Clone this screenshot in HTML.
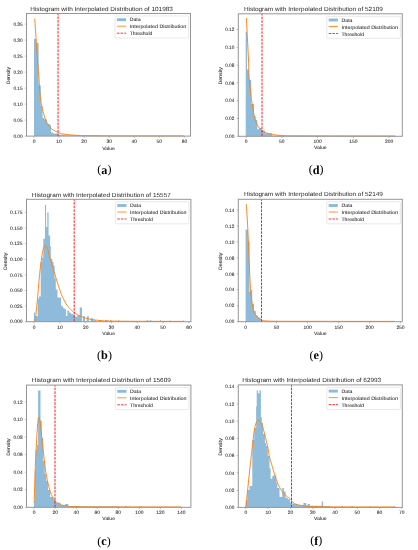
<!DOCTYPE html>
<html><head><meta charset="utf-8"><title>Histograms</title>
<style>
html,body{margin:0;padding:0;background:#fff;}
body{width:418px;height:550px;overflow:hidden;}
svg{display:block;filter:blur(0.3px);}
svg text{font-family:"Liberation Sans",sans-serif;fill:#262626;text-rendering:geometricPrecision;stroke:#262626;}
</style></head><body>
<svg width="418" height="550" viewBox="0 0 418 550">
<rect width="418" height="550" fill="#fff"/>
<path d="M34 136.1H36.2V39H34ZM36.2 136.1H38.6V43H36.2ZM38.6 136.1H40.8V85.6H38.6ZM40.8 136.1H42.6V106H40.8ZM42.6 136.1H44.4V118H42.6ZM44.4 136.1H47V119.5H44.4ZM47 136.1H49.8V124H47ZM49.8 136.1H51V125.2H49.8ZM51 136.1H53.4V132.4H51ZM53.4 136.1H58V133.6H53.4ZM58 136.1H65V134.8H58ZM65 136.1H80V135.2H65ZM80 136.1H100V135.5H80Z" fill="#8ebbda"/>
<polyline points="34.8,19 34.92,20.88 35.09,23.48 35.28,26.56 35.49,29.87 35.7,33.17 35.9,36.2 36.08,39.03 36.27,41.86 36.45,44.68 36.63,47.45 36.82,50.17 37,52.8 37.19,55.4 37.38,58.01 37.57,60.55 37.76,62.97 37.94,65.21 38.1,67.2 38.23,68.72 38.33,69.76 38.42,70.61 38.52,71.58 38.64,72.94 38.8,75 38.99,77.96 39.19,81.62 39.42,85.69 39.67,89.84 39.97,93.78 40.3,97.2 40.69,100.1 41.12,102.74 41.59,105.16 42.08,107.41 42.59,109.54 43.1,111.6 43.61,113.56 44.12,115.39 44.65,117.09 45.2,118.68 45.78,120.18 46.4,121.6 47.03,122.92 47.66,124.13 48.32,125.25 49.04,126.29 49.86,127.27 50.8,128.2 51.92,129.09 53.19,129.93 54.56,130.71 55.96,131.41 57.32,132.05 58.6,132.6 59.71,133.05 60.69,133.39 61.64,133.66 62.66,133.88 63.85,134.08 65.3,134.3 66.96,134.53 68.74,134.74 70.69,134.93 72.86,135.11 75.28,135.26 78,135.4 80.42,135.51 82.38,135.6 84.59,135.66 87.79,135.71 92.68,135.76 100,135.8 111.29,135.84 126.28,135.86 142.97,135.88 159.36,135.89 173.44,135.89 183.2,135.9" fill="none" stroke="#ff7f0e" stroke-width="0.95" stroke-linejoin="round" stroke-linecap="round"/>
<line x1="58.05" y1="136.1" x2="58.05" y2="13.5" stroke="#ff0000" stroke-width="0.9" stroke-dasharray="2.55 1.11" stroke-dashoffset="0"/>
<rect x="26.5" y="13.5" width="164" height="122.6" fill="none" stroke="#969696" stroke-width="1.0"/>
<line x1="34" y1="136.1" x2="34" y2="137.8" stroke="#969696" stroke-width="0.6"/>
<text x="34" y="142.7" font-size="4.83" text-anchor="middle" textLength="2.75" lengthAdjust="spacingAndGlyphs" stroke-width="0.05">0</text>
<line x1="59.07" y1="136.1" x2="59.07" y2="137.8" stroke="#969696" stroke-width="0.6"/>
<text x="59.07" y="142.7" font-size="4.83" text-anchor="middle" textLength="5.5" lengthAdjust="spacingAndGlyphs" stroke-width="0.05">10</text>
<line x1="84.13" y1="136.1" x2="84.13" y2="137.8" stroke="#969696" stroke-width="0.6"/>
<text x="84.13" y="142.7" font-size="4.83" text-anchor="middle" textLength="5.5" lengthAdjust="spacingAndGlyphs" stroke-width="0.05">20</text>
<line x1="109.2" y1="136.1" x2="109.2" y2="137.8" stroke="#969696" stroke-width="0.6"/>
<text x="109.2" y="142.7" font-size="4.83" text-anchor="middle" textLength="5.5" lengthAdjust="spacingAndGlyphs" stroke-width="0.05">30</text>
<line x1="134.27" y1="136.1" x2="134.27" y2="137.8" stroke="#969696" stroke-width="0.6"/>
<text x="134.27" y="142.7" font-size="4.83" text-anchor="middle" textLength="5.5" lengthAdjust="spacingAndGlyphs" stroke-width="0.05">40</text>
<line x1="159.33" y1="136.1" x2="159.33" y2="137.8" stroke="#969696" stroke-width="0.6"/>
<text x="159.33" y="142.7" font-size="4.83" text-anchor="middle" textLength="5.5" lengthAdjust="spacingAndGlyphs" stroke-width="0.05">50</text>
<line x1="184.4" y1="136.1" x2="184.4" y2="137.8" stroke="#969696" stroke-width="0.6"/>
<text x="184.4" y="142.7" font-size="4.83" text-anchor="middle" textLength="5.5" lengthAdjust="spacingAndGlyphs" stroke-width="0.05">60</text>
<line x1="24.8" y1="136.1" x2="26.5" y2="136.1" stroke="#969696" stroke-width="0.6"/>
<text x="22.6" y="137.78" font-size="4.83" text-anchor="end" textLength="9.22" lengthAdjust="spacingAndGlyphs" stroke-width="0.05">0.00</text>
<line x1="24.8" y1="120.1" x2="26.5" y2="120.1" stroke="#969696" stroke-width="0.6"/>
<text x="22.6" y="121.78" font-size="4.83" text-anchor="end" textLength="9.22" lengthAdjust="spacingAndGlyphs" stroke-width="0.05">0.05</text>
<line x1="24.8" y1="104.1" x2="26.5" y2="104.1" stroke="#969696" stroke-width="0.6"/>
<text x="22.6" y="105.78" font-size="4.83" text-anchor="end" textLength="9.22" lengthAdjust="spacingAndGlyphs" stroke-width="0.05">0.10</text>
<line x1="24.8" y1="88.1" x2="26.5" y2="88.1" stroke="#969696" stroke-width="0.6"/>
<text x="22.6" y="89.78" font-size="4.83" text-anchor="end" textLength="9.22" lengthAdjust="spacingAndGlyphs" stroke-width="0.05">0.15</text>
<line x1="24.8" y1="72.1" x2="26.5" y2="72.1" stroke="#969696" stroke-width="0.6"/>
<text x="22.6" y="73.78" font-size="4.83" text-anchor="end" textLength="9.22" lengthAdjust="spacingAndGlyphs" stroke-width="0.05">0.20</text>
<line x1="24.8" y1="56.1" x2="26.5" y2="56.1" stroke="#969696" stroke-width="0.6"/>
<text x="22.6" y="57.78" font-size="4.83" text-anchor="end" textLength="9.22" lengthAdjust="spacingAndGlyphs" stroke-width="0.05">0.25</text>
<line x1="24.8" y1="40.1" x2="26.5" y2="40.1" stroke="#969696" stroke-width="0.6"/>
<text x="22.6" y="41.78" font-size="4.83" text-anchor="end" textLength="9.22" lengthAdjust="spacingAndGlyphs" stroke-width="0.05">0.30</text>
<line x1="24.8" y1="24.1" x2="26.5" y2="24.1" stroke="#969696" stroke-width="0.6"/>
<text x="22.6" y="25.78" font-size="4.83" text-anchor="end" textLength="9.22" lengthAdjust="spacingAndGlyphs" stroke-width="0.05">0.35</text>
<text x="108.5" y="149.7" font-size="4.83" text-anchor="middle" textLength="12.63" lengthAdjust="spacingAndGlyphs" stroke-width="0.05">Value</text>
<g transform="translate(10.3 75.6) rotate(-90)"><text x="0" y="0" font-size="4.83" text-anchor="middle" textLength="17.49" lengthAdjust="spacingAndGlyphs" stroke-width="0.05">Density</text></g>
<text x="30.3" y="10.6" font-size="6" text-anchor="start" textLength="142.56" lengthAdjust="spacingAndGlyphs" stroke-width="0">Histogram with Interpolated Distribution of 101983</text>
<rect x="115" y="16" width="73.6" height="22" rx="0.9" fill="#fff" fill-opacity="0.8" stroke="#d0d0d0" stroke-width="0.5"/>
<rect x="116.9" y="18.25" width="9.2" height="2.9" fill="#8ebbda"/>
<line x1="116.9" y1="26.2" x2="126.1" y2="26.2" stroke="#ff7f0e" stroke-width="0.85"/>
<line x1="116.9" y1="33.2" x2="126.1" y2="33.2" stroke="#ff0000" stroke-width="0.8" stroke-dasharray="2.55 1.11"/>
<text x="129.7" y="21.38" font-size="4.83" text-anchor="start" textLength="10.98" lengthAdjust="spacingAndGlyphs" stroke-width="0.05">Data</text>
<text x="129.7" y="28.38" font-size="4.83" text-anchor="start" textLength="56.48" lengthAdjust="spacingAndGlyphs" stroke-width="0.05">Interpolated Distribution</text>
<text x="129.7" y="35.28" font-size="4.83" text-anchor="start" textLength="22.67" lengthAdjust="spacingAndGlyphs" stroke-width="0.05">Threshold</text>
<text x="104.4" y="173.2" style="font-family:&quot;Liberation Serif&quot;,serif;fill:#000;stroke:none" font-size="12" text-anchor="middle">(<tspan style="font-weight:bold" font-size="12.2" dy="0.8">a</tspan><tspan dy="-0.8">)</tspan></text>
<path d="M33.9 321.7H35V312.6H33.9ZM35 321.7H36V316H35ZM36 321.7H37.7V316.2H36ZM37.7 321.7H38.9V298.7H37.7ZM38.9 321.7H40.7V296.4H38.9ZM40.7 321.7H42.1V262H40.7ZM42.1 321.7H43.3V257.7H42.1ZM43.3 321.7H45V238.8H43.3ZM45 321.7H46.1V205.1H45ZM46.1 321.7H47.3V227H46.1ZM47.3 321.7H48.6V212.4H47.3ZM48.6 321.7H50.1V235.5H48.6ZM50.1 321.7H50.8V246H50.1ZM50.8 321.7H52.4V259.1H50.8ZM52.4 321.7H53.5V262H52.4ZM53.5 321.7H54.6V265.6H53.5ZM54.6 321.7H55.8V278.4H54.6ZM55.8 321.7H57.5V289.4H55.8ZM57.5 321.7H61V297.6H57.5ZM61 321.7H62.8V305.7H61ZM62.8 321.7H64.5V308H62.8ZM64.5 321.7H66V309.2H64.5ZM66 321.7H67.4V316H66ZM67.4 321.7H69.2V310.4H67.4ZM69.2 321.7H70.9V312.7H69.2ZM70.9 321.7H73.3V313.9H70.9ZM73.3 321.7H75V315H73.3ZM75 321.7H77.3V316.8H75ZM77.3 321.7H79.7V315H77.3ZM79.7 321.7H82V307.5H79.7ZM82.9 321.7H85V316.3H82.9ZM86.8 321.7H88.9V316.3H86.8ZM90.7 321.7H93.2V318.2H90.7ZM93.2 321.7H96V320.2H93.2ZM99 321.7H101V320.4H99ZM105.3 321.7H107.6V320.1H105.3ZM110 321.7H111.5V320.1H110ZM118 321.7H119.5V320.6H118ZM146.7 321.7H148.3V320.2H146.7ZM150 321.7H151.3V320.3H150ZM160 321.7H161V320.3H160ZM169.6 321.7H170.8V320.5H169.6ZM183 321.7H184.3V320.6H183Z" fill="#8ebbda"/>
<polyline points="34.2,321.4 34.31,321.21 34.47,320.98 34.65,320.69 34.84,320.32 35.03,319.87 35.2,319.3 35.33,318.73 35.45,318.19 35.56,317.56 35.67,316.72 35.82,315.54 36,313.9 36.23,311.72 36.5,309.09 36.79,306.12 37.09,302.93 37.4,299.65 37.7,296.4 37.99,293.07 38.28,289.56 38.58,285.95 38.87,282.34 39.18,278.83 39.5,275.5 39.83,272.3 40.19,269.13 40.54,266.06 40.9,263.14 41.26,260.43 41.6,258 41.93,255.84 42.25,253.9 42.56,252.18 42.87,250.66 43.19,249.33 43.5,248.2 43.82,247.28 44.15,246.6 44.48,246.11 44.8,245.79 45.11,245.6 45.4,245.5 45.67,245.53 45.93,245.73 46.17,246.05 46.41,246.47 46.65,246.97 46.9,247.5 47.16,248.09 47.43,248.76 47.7,249.5 47.97,250.3 48.24,251.13 48.5,252 48.73,252.85 48.93,253.68 49.13,254.56 49.36,255.53 49.64,256.66 50,258 50.47,259.61 51.02,261.45 51.62,263.44 52.26,265.52 52.89,267.6 53.5,269.6 54.08,271.56 54.67,273.54 55.26,275.52 55.84,277.49 56.42,279.42 57,281.3 57.57,283.15 58.14,284.98 58.7,286.78 59.26,288.52 59.83,290.2 60.4,291.8 60.98,293.32 61.56,294.76 62.14,296.14 62.73,297.46 63.32,298.71 63.9,299.9 64.48,301.02 65.07,302.07 65.65,303.05 66.23,303.98 66.82,304.86 67.4,305.7 67.98,306.5 68.57,307.24 69.15,307.93 69.73,308.59 70.32,309.21 70.9,309.8 71.48,310.36 72.07,310.88 72.65,311.36 73.23,311.82 73.82,312.27 74.4,312.7 74.98,313.12 75.54,313.53 76.11,313.92 76.69,314.29 77.28,314.65 77.9,315 78.53,315.33 79.15,315.63 79.79,315.92 80.47,316.2 81.2,316.49 82,316.8 82.82,317.13 83.64,317.46 84.51,317.81 85.49,318.15 86.63,318.48 88,318.8 89.56,319.11 91.26,319.43 93.12,319.73 95.19,320.02 97.47,320.28 100,320.5 102.37,320.68 104.46,320.83 106.78,320.94 109.81,321.04 114.06,321.12 120,321.2 128.8,321.26 140.3,321.31 153,321.34 165.43,321.37 176.09,321.38 183.5,321.4" fill="none" stroke="#ff7f0e" stroke-width="0.95" stroke-linejoin="round" stroke-linecap="round"/>
<line x1="74.2" y1="321.7" x2="74.2" y2="199.3" stroke="#ff0000" stroke-width="0.9" stroke-dasharray="2.55 1.11" stroke-dashoffset="0"/>
<rect x="26.5" y="199.3" width="164.4" height="122.4" fill="none" stroke="#969696" stroke-width="1.0"/>
<line x1="34.1" y1="321.7" x2="34.1" y2="323.4" stroke="#969696" stroke-width="0.6"/>
<text x="34.1" y="328.5" font-size="4.83" text-anchor="middle" textLength="2.75" lengthAdjust="spacingAndGlyphs" stroke-width="0.05">0</text>
<line x1="59.9" y1="321.7" x2="59.9" y2="323.4" stroke="#969696" stroke-width="0.6"/>
<text x="59.9" y="328.5" font-size="4.83" text-anchor="middle" textLength="5.5" lengthAdjust="spacingAndGlyphs" stroke-width="0.05">10</text>
<line x1="85.7" y1="321.7" x2="85.7" y2="323.4" stroke="#969696" stroke-width="0.6"/>
<text x="85.7" y="328.5" font-size="4.83" text-anchor="middle" textLength="5.5" lengthAdjust="spacingAndGlyphs" stroke-width="0.05">20</text>
<line x1="111.5" y1="321.7" x2="111.5" y2="323.4" stroke="#969696" stroke-width="0.6"/>
<text x="111.5" y="328.5" font-size="4.83" text-anchor="middle" textLength="5.5" lengthAdjust="spacingAndGlyphs" stroke-width="0.05">30</text>
<line x1="137.3" y1="321.7" x2="137.3" y2="323.4" stroke="#969696" stroke-width="0.6"/>
<text x="137.3" y="328.5" font-size="4.83" text-anchor="middle" textLength="5.5" lengthAdjust="spacingAndGlyphs" stroke-width="0.05">40</text>
<line x1="163.1" y1="321.7" x2="163.1" y2="323.4" stroke="#969696" stroke-width="0.6"/>
<text x="163.1" y="328.5" font-size="4.83" text-anchor="middle" textLength="5.5" lengthAdjust="spacingAndGlyphs" stroke-width="0.05">50</text>
<line x1="188.9" y1="321.7" x2="188.9" y2="323.4" stroke="#969696" stroke-width="0.6"/>
<text x="188.9" y="328.5" font-size="4.83" text-anchor="middle" textLength="5.5" lengthAdjust="spacingAndGlyphs" stroke-width="0.05">60</text>
<line x1="24.8" y1="321.7" x2="26.5" y2="321.7" stroke="#969696" stroke-width="0.6"/>
<text x="22.6" y="323.38" font-size="4.83" text-anchor="end" textLength="12.51" lengthAdjust="spacingAndGlyphs" stroke-width="0.05">0.000</text>
<line x1="24.8" y1="306.08" x2="26.5" y2="306.08" stroke="#969696" stroke-width="0.6"/>
<text x="22.6" y="307.76" font-size="4.83" text-anchor="end" textLength="12.51" lengthAdjust="spacingAndGlyphs" stroke-width="0.05">0.025</text>
<line x1="24.8" y1="290.47" x2="26.5" y2="290.47" stroke="#969696" stroke-width="0.6"/>
<text x="22.6" y="292.15" font-size="4.83" text-anchor="end" textLength="12.51" lengthAdjust="spacingAndGlyphs" stroke-width="0.05">0.050</text>
<line x1="24.8" y1="274.86" x2="26.5" y2="274.86" stroke="#969696" stroke-width="0.6"/>
<text x="22.6" y="276.54" font-size="4.83" text-anchor="end" textLength="12.51" lengthAdjust="spacingAndGlyphs" stroke-width="0.05">0.075</text>
<line x1="24.8" y1="259.24" x2="26.5" y2="259.24" stroke="#969696" stroke-width="0.6"/>
<text x="22.6" y="260.92" font-size="4.83" text-anchor="end" textLength="12.51" lengthAdjust="spacingAndGlyphs" stroke-width="0.05">0.100</text>
<line x1="24.8" y1="243.62" x2="26.5" y2="243.62" stroke="#969696" stroke-width="0.6"/>
<text x="22.6" y="245.31" font-size="4.83" text-anchor="end" textLength="12.51" lengthAdjust="spacingAndGlyphs" stroke-width="0.05">0.125</text>
<line x1="24.8" y1="228.01" x2="26.5" y2="228.01" stroke="#969696" stroke-width="0.6"/>
<text x="22.6" y="229.69" font-size="4.83" text-anchor="end" textLength="12.51" lengthAdjust="spacingAndGlyphs" stroke-width="0.05">0.150</text>
<line x1="24.8" y1="212.39" x2="26.5" y2="212.39" stroke="#969696" stroke-width="0.6"/>
<text x="22.6" y="214.07" font-size="4.83" text-anchor="end" textLength="12.51" lengthAdjust="spacingAndGlyphs" stroke-width="0.05">0.175</text>
<text x="108.7" y="334.5" font-size="4.83" text-anchor="middle" textLength="12.63" lengthAdjust="spacingAndGlyphs" stroke-width="0.05">Value</text>
<g transform="translate(7 261.3) rotate(-90)"><text x="0" y="0" font-size="4.83" text-anchor="middle" textLength="17.49" lengthAdjust="spacingAndGlyphs" stroke-width="0.05">Density</text></g>
<text x="31.8" y="196.8" font-size="6" text-anchor="start" textLength="139.02" lengthAdjust="spacingAndGlyphs" stroke-width="0">Histogram with Interpolated Distribution of 15557</text>
<rect x="115.4" y="201.8" width="73.6" height="22" rx="0.9" fill="#fff" fill-opacity="0.8" stroke="#d0d0d0" stroke-width="0.5"/>
<rect x="117.3" y="204.05" width="9.2" height="2.9" fill="#8ebbda"/>
<line x1="117.3" y1="212" x2="126.5" y2="212" stroke="#ff7f0e" stroke-width="0.85"/>
<line x1="117.3" y1="219" x2="126.5" y2="219" stroke="#ff0000" stroke-width="0.8" stroke-dasharray="2.55 1.11"/>
<text x="130.1" y="207.18" font-size="4.83" text-anchor="start" textLength="10.98" lengthAdjust="spacingAndGlyphs" stroke-width="0.05">Data</text>
<text x="130.1" y="214.18" font-size="4.83" text-anchor="start" textLength="56.48" lengthAdjust="spacingAndGlyphs" stroke-width="0.05">Interpolated Distribution</text>
<text x="130.1" y="221.08" font-size="4.83" text-anchor="start" textLength="22.67" lengthAdjust="spacingAndGlyphs" stroke-width="0.05">Threshold</text>
<text x="104.5" y="358.5" style="font-family:&quot;Liberation Serif&quot;,serif;fill:#000;stroke:none" font-size="12" text-anchor="middle">(<tspan style="font-weight:bold" font-size="12.2" dy="0.8">b</tspan><tspan dy="-0.8">)</tspan></text>
<path d="M34 507.3H34.9V501H34ZM34.9 507.3H35.7V470H34.9ZM35.7 507.3H36.8V450H35.7ZM36.8 507.3H38.1V445H36.8ZM38.1 507.3H40.5V390.5H38.1ZM40.5 507.3H41.8V420.7H40.5ZM41.8 507.3H43.2V438H41.8ZM43.2 507.3H44.8V461H43.2ZM44.8 507.3H46.2V474H44.8ZM46.2 507.3H48V481H46.2ZM48 507.3H50.2V490H48ZM50.2 507.3H53.5V497H50.2ZM53.5 507.3H55.7V500H53.5ZM55.7 507.3H60.6V502.8H55.7ZM60.6 507.3H65V505H60.6ZM65 507.3H68.3V503.9H65ZM68.3 507.3H80V506H68.3ZM80 507.3H120V506.5H80ZM125 507.3H127V506.3H125ZM140 507.3H142V506.4H140Z" fill="#8ebbda"/>
<polyline points="34.2,502 34.26,499.9 34.34,496.98 34.44,493.53 34.55,489.85 34.65,486.24 34.75,483 34.84,480.11 34.92,477.31 35.01,474.59 35.1,471.91 35.19,469.22 35.3,466.5 35.41,463.84 35.53,461.28 35.65,458.72 35.78,456.06 35.93,453.18 36.1,450 36.3,446.25 36.54,441.98 36.79,437.5 37.04,433.13 37.28,429.19 37.5,426 37.69,423.55 37.85,421.59 38,420.06 38.15,418.91 38.31,418.07 38.5,417.5 38.71,417.23 38.94,417.31 39.18,417.71 39.42,418.39 39.66,419.33 39.9,420.5 40.13,421.97 40.36,423.78 40.59,425.84 40.82,428.08 41.06,430.39 41.3,432.7 41.56,435.08 41.83,437.63 42.1,440.25 42.37,442.87 42.64,445.42 42.9,447.8 43.14,450 43.38,452.09 43.61,454.09 43.83,456.06 44.06,458.01 44.3,460 44.54,462.02 44.77,464.05 45,466.07 45.24,468.08 45.51,470.06 45.8,472 46.12,473.9 46.46,475.78 46.82,477.63 47.2,479.45 47.6,481.24 48,483 48.41,484.75 48.84,486.5 49.28,488.23 49.74,489.89 50.21,491.45 50.7,492.9 51.22,494.23 51.76,495.47 52.31,496.61 52.88,497.67 53.44,498.63 54,499.5 54.54,500.25 55.06,500.89 55.58,501.43 56.12,501.9 56.69,502.35 57.3,502.8 57.94,503.24 58.6,503.65 59.29,504.02 60.03,504.37 60.83,504.7 61.7,505 62.66,505.28 63.7,505.53 64.79,505.76 65.94,505.97 67.11,506.15 68.3,506.3 69.33,506.42 70.18,506.51 71.06,506.57 72.19,506.61 73.76,506.66 76,506.7 78.4,506.75 80.68,506.79 83.42,506.82 87.17,506.85 92.51,506.87 100,506.9 111.14,506.92 125.78,506.94 142,506.96 157.89,506.98 171.53,506.99 181,507" fill="none" stroke="#ff7f0e" stroke-width="0.95" stroke-linejoin="round" stroke-linecap="round"/>
<line x1="55" y1="507.3" x2="55" y2="385.1" stroke="#ff0000" stroke-width="0.9" stroke-dasharray="2.55 1.11" stroke-dashoffset="0"/>
<rect x="26.5" y="385.1" width="164.4" height="122.2" fill="none" stroke="#969696" stroke-width="1.0"/>
<line x1="34.1" y1="507.3" x2="34.1" y2="509" stroke="#969696" stroke-width="0.6"/>
<text x="34.1" y="514" font-size="4.83" text-anchor="middle" textLength="2.75" lengthAdjust="spacingAndGlyphs" stroke-width="0.05">0</text>
<line x1="55.16" y1="507.3" x2="55.16" y2="509" stroke="#969696" stroke-width="0.6"/>
<text x="55.16" y="514" font-size="4.83" text-anchor="middle" textLength="5.5" lengthAdjust="spacingAndGlyphs" stroke-width="0.05">20</text>
<line x1="76.22" y1="507.3" x2="76.22" y2="509" stroke="#969696" stroke-width="0.6"/>
<text x="76.22" y="514" font-size="4.83" text-anchor="middle" textLength="5.5" lengthAdjust="spacingAndGlyphs" stroke-width="0.05">40</text>
<line x1="97.27" y1="507.3" x2="97.27" y2="509" stroke="#969696" stroke-width="0.6"/>
<text x="97.27" y="514" font-size="4.83" text-anchor="middle" textLength="5.5" lengthAdjust="spacingAndGlyphs" stroke-width="0.05">60</text>
<line x1="118.33" y1="507.3" x2="118.33" y2="509" stroke="#969696" stroke-width="0.6"/>
<text x="118.33" y="514" font-size="4.83" text-anchor="middle" textLength="5.5" lengthAdjust="spacingAndGlyphs" stroke-width="0.05">80</text>
<line x1="139.39" y1="507.3" x2="139.39" y2="509" stroke="#969696" stroke-width="0.6"/>
<text x="139.39" y="514" font-size="4.83" text-anchor="middle" textLength="8.25" lengthAdjust="spacingAndGlyphs" stroke-width="0.05">100</text>
<line x1="160.45" y1="507.3" x2="160.45" y2="509" stroke="#969696" stroke-width="0.6"/>
<text x="160.45" y="514" font-size="4.83" text-anchor="middle" textLength="8.25" lengthAdjust="spacingAndGlyphs" stroke-width="0.05">120</text>
<line x1="181.51" y1="507.3" x2="181.51" y2="509" stroke="#969696" stroke-width="0.6"/>
<text x="181.51" y="514" font-size="4.83" text-anchor="middle" textLength="8.25" lengthAdjust="spacingAndGlyphs" stroke-width="0.05">140</text>
<line x1="24.8" y1="507.3" x2="26.5" y2="507.3" stroke="#969696" stroke-width="0.6"/>
<text x="22.6" y="508.98" font-size="4.83" text-anchor="end" textLength="9.22" lengthAdjust="spacingAndGlyphs" stroke-width="0.05">0.00</text>
<line x1="24.8" y1="489.74" x2="26.5" y2="489.74" stroke="#969696" stroke-width="0.6"/>
<text x="22.6" y="491.42" font-size="4.83" text-anchor="end" textLength="9.22" lengthAdjust="spacingAndGlyphs" stroke-width="0.05">0.02</text>
<line x1="24.8" y1="472.18" x2="26.5" y2="472.18" stroke="#969696" stroke-width="0.6"/>
<text x="22.6" y="473.86" font-size="4.83" text-anchor="end" textLength="9.22" lengthAdjust="spacingAndGlyphs" stroke-width="0.05">0.04</text>
<line x1="24.8" y1="454.62" x2="26.5" y2="454.62" stroke="#969696" stroke-width="0.6"/>
<text x="22.6" y="456.3" font-size="4.83" text-anchor="end" textLength="9.22" lengthAdjust="spacingAndGlyphs" stroke-width="0.05">0.06</text>
<line x1="24.8" y1="437.06" x2="26.5" y2="437.06" stroke="#969696" stroke-width="0.6"/>
<text x="22.6" y="438.74" font-size="4.83" text-anchor="end" textLength="9.22" lengthAdjust="spacingAndGlyphs" stroke-width="0.05">0.08</text>
<line x1="24.8" y1="419.5" x2="26.5" y2="419.5" stroke="#969696" stroke-width="0.6"/>
<text x="22.6" y="421.18" font-size="4.83" text-anchor="end" textLength="9.22" lengthAdjust="spacingAndGlyphs" stroke-width="0.05">0.10</text>
<line x1="24.8" y1="401.94" x2="26.5" y2="401.94" stroke="#969696" stroke-width="0.6"/>
<text x="22.6" y="403.62" font-size="4.83" text-anchor="end" textLength="9.22" lengthAdjust="spacingAndGlyphs" stroke-width="0.05">0.12</text>
<text x="108.7" y="520.2" font-size="4.83" text-anchor="middle" textLength="12.63" lengthAdjust="spacingAndGlyphs" stroke-width="0.05">Value</text>
<g transform="translate(10.3 447) rotate(-90)"><text x="0" y="0" font-size="4.83" text-anchor="middle" textLength="17.49" lengthAdjust="spacingAndGlyphs" stroke-width="0.05">Density</text></g>
<text x="31.8" y="381.8" font-size="6" text-anchor="start" textLength="139.02" lengthAdjust="spacingAndGlyphs" stroke-width="0">Histogram with Interpolated Distribution of 15609</text>
<rect x="115.4" y="387.6" width="73.6" height="22" rx="0.9" fill="#fff" fill-opacity="0.8" stroke="#d0d0d0" stroke-width="0.5"/>
<rect x="117.3" y="389.85" width="9.2" height="2.9" fill="#8ebbda"/>
<line x1="117.3" y1="397.8" x2="126.5" y2="397.8" stroke="#ff7f0e" stroke-width="0.85"/>
<line x1="117.3" y1="404.8" x2="126.5" y2="404.8" stroke="#ff0000" stroke-width="0.8" stroke-dasharray="2.55 1.11"/>
<text x="130.1" y="392.98" font-size="4.83" text-anchor="start" textLength="10.98" lengthAdjust="spacingAndGlyphs" stroke-width="0.05">Data</text>
<text x="130.1" y="399.98" font-size="4.83" text-anchor="start" textLength="56.48" lengthAdjust="spacingAndGlyphs" stroke-width="0.05">Interpolated Distribution</text>
<text x="130.1" y="406.88" font-size="4.83" text-anchor="start" textLength="22.67" lengthAdjust="spacingAndGlyphs" stroke-width="0.05">Threshold</text>
<text x="104" y="544.5" style="font-family:&quot;Liberation Serif&quot;,serif;fill:#000;stroke:none" font-size="12" text-anchor="middle">(<tspan style="font-weight:bold" font-size="12.2" dy="0.8">c</tspan><tspan dy="-0.8">)</tspan></text>
<path d="M245.7 136.3H247.1V31.7H245.7ZM247.1 136.3H249V69.5H247.1ZM249 136.3H251.2V80H249ZM251.2 136.3H254V104H251.2ZM254 136.3H255.6V116H254ZM255.6 136.3H257.3V120H255.6ZM257.3 136.3H259V129.3H257.3ZM259 136.3H261.7V128H259ZM261.7 136.3H265V130.5H261.7ZM265 136.3H272V133.2H265ZM272 136.3H285V135.4H272Z" fill="#8ebbda"/>
<polyline points="246.4,18.4 246.52,20.77 246.69,24.06 246.89,27.95 247.1,32.12 247.31,36.24 247.5,40 247.68,43.48 247.86,46.97 248.04,50.41 248.21,53.76 248.36,56.97 248.5,60 248.6,62.77 248.66,65.31 248.71,67.71 248.77,70.07 248.86,72.47 249,75 249.2,77.71 249.45,80.53 249.72,83.4 250.02,86.24 250.31,89 250.6,91.6 250.87,94.03 251.14,96.35 251.41,98.58 251.69,100.75 251.99,102.88 252.3,105 252.63,107.14 252.97,109.29 253.33,111.4 253.7,113.43 254.09,115.35 254.5,117.1 254.91,118.68 255.33,120.1 255.76,121.41 256.23,122.63 256.73,123.78 257.3,124.9 257.9,125.97 258.52,126.98 259.19,127.93 259.92,128.81 260.75,129.63 261.7,130.4 262.77,131.11 263.93,131.76 265.18,132.34 266.53,132.88 267.97,133.36 269.5,133.8 271.06,134.18 272.65,134.51 274.33,134.79 276.16,135.02 278.23,135.22 280.6,135.4 282.48,135.54 283.65,135.63 285.06,135.69 287.63,135.73 292.3,135.76 300,135.8 312.56,135.85 329.59,135.89 348.71,135.93 367.57,135.96 383.79,135.98 395,136" fill="none" stroke="#ff7f0e" stroke-width="0.95" stroke-linejoin="round" stroke-linecap="round"/>
<line x1="262" y1="136.3" x2="262" y2="13.8" stroke="#ff0000" stroke-width="0.9" stroke-dasharray="2.55 1.11" stroke-dashoffset="0"/>
<rect x="238.3" y="13.8" width="164" height="122.5" fill="none" stroke="#969696" stroke-width="1.0"/>
<line x1="246.1" y1="136.3" x2="246.1" y2="138" stroke="#969696" stroke-width="0.6"/>
<text x="246.1" y="142.8" font-size="4.83" text-anchor="middle" textLength="2.75" lengthAdjust="spacingAndGlyphs" stroke-width="0.05">0</text>
<line x1="281.85" y1="136.3" x2="281.85" y2="138" stroke="#969696" stroke-width="0.6"/>
<text x="281.85" y="142.8" font-size="4.83" text-anchor="middle" textLength="5.5" lengthAdjust="spacingAndGlyphs" stroke-width="0.05">50</text>
<line x1="317.6" y1="136.3" x2="317.6" y2="138" stroke="#969696" stroke-width="0.6"/>
<text x="317.6" y="142.8" font-size="4.83" text-anchor="middle" textLength="8.25" lengthAdjust="spacingAndGlyphs" stroke-width="0.05">100</text>
<line x1="353.35" y1="136.3" x2="353.35" y2="138" stroke="#969696" stroke-width="0.6"/>
<text x="353.35" y="142.8" font-size="4.83" text-anchor="middle" textLength="8.25" lengthAdjust="spacingAndGlyphs" stroke-width="0.05">150</text>
<line x1="389.1" y1="136.3" x2="389.1" y2="138" stroke="#969696" stroke-width="0.6"/>
<text x="389.1" y="142.8" font-size="4.83" text-anchor="middle" textLength="8.25" lengthAdjust="spacingAndGlyphs" stroke-width="0.05">200</text>
<line x1="236.6" y1="136.3" x2="238.3" y2="136.3" stroke="#969696" stroke-width="0.6"/>
<text x="234.4" y="137.98" font-size="4.83" text-anchor="end" textLength="9.22" lengthAdjust="spacingAndGlyphs" stroke-width="0.05">0.00</text>
<line x1="236.6" y1="118.5" x2="238.3" y2="118.5" stroke="#969696" stroke-width="0.6"/>
<text x="234.4" y="120.18" font-size="4.83" text-anchor="end" textLength="9.22" lengthAdjust="spacingAndGlyphs" stroke-width="0.05">0.02</text>
<line x1="236.6" y1="100.7" x2="238.3" y2="100.7" stroke="#969696" stroke-width="0.6"/>
<text x="234.4" y="102.38" font-size="4.83" text-anchor="end" textLength="9.22" lengthAdjust="spacingAndGlyphs" stroke-width="0.05">0.04</text>
<line x1="236.6" y1="82.9" x2="238.3" y2="82.9" stroke="#969696" stroke-width="0.6"/>
<text x="234.4" y="84.58" font-size="4.83" text-anchor="end" textLength="9.22" lengthAdjust="spacingAndGlyphs" stroke-width="0.05">0.06</text>
<line x1="236.6" y1="65.1" x2="238.3" y2="65.1" stroke="#969696" stroke-width="0.6"/>
<text x="234.4" y="66.78" font-size="4.83" text-anchor="end" textLength="9.22" lengthAdjust="spacingAndGlyphs" stroke-width="0.05">0.08</text>
<line x1="236.6" y1="47.3" x2="238.3" y2="47.3" stroke="#969696" stroke-width="0.6"/>
<text x="234.4" y="48.98" font-size="4.83" text-anchor="end" textLength="9.22" lengthAdjust="spacingAndGlyphs" stroke-width="0.05">0.10</text>
<line x1="236.6" y1="29.5" x2="238.3" y2="29.5" stroke="#969696" stroke-width="0.6"/>
<text x="234.4" y="31.18" font-size="4.83" text-anchor="end" textLength="9.22" lengthAdjust="spacingAndGlyphs" stroke-width="0.05">0.12</text>
<text x="320.3" y="149.4" font-size="4.83" text-anchor="middle" textLength="12.63" lengthAdjust="spacingAndGlyphs" stroke-width="0.05">Value</text>
<g transform="translate(222.2 75.85) rotate(-90)"><text x="0" y="0" font-size="4.83" text-anchor="middle" textLength="17.49" lengthAdjust="spacingAndGlyphs" stroke-width="0.05">Density</text></g>
<text x="243.9" y="10.6" font-size="6" text-anchor="start" textLength="139.02" lengthAdjust="spacingAndGlyphs" stroke-width="0">Histogram with Interpolated Distribution of 52109</text>
<rect x="326.8" y="16.3" width="73.6" height="22" rx="0.9" fill="#fff" fill-opacity="0.8" stroke="#d0d0d0" stroke-width="0.5"/>
<rect x="328.7" y="18.55" width="9.2" height="2.9" fill="#8ebbda"/>
<line x1="328.7" y1="26.5" x2="337.9" y2="26.5" stroke="#ff7f0e" stroke-width="0.85"/>
<line x1="328.7" y1="33.5" x2="337.9" y2="33.5" stroke="#ff0000" stroke-width="0.8" stroke-dasharray="2.55 1.11"/>
<text x="341.5" y="21.68" font-size="4.83" text-anchor="start" textLength="10.98" lengthAdjust="spacingAndGlyphs" stroke-width="0.05">Data</text>
<text x="341.5" y="28.68" font-size="4.83" text-anchor="start" textLength="56.48" lengthAdjust="spacingAndGlyphs" stroke-width="0.05">Interpolated Distribution</text>
<text x="341.5" y="35.58" font-size="4.83" text-anchor="start" textLength="22.67" lengthAdjust="spacingAndGlyphs" stroke-width="0.05">Threshold</text>
<text x="316.1" y="173.2" style="font-family:&quot;Liberation Serif&quot;,serif;fill:#000;stroke:none" font-size="12" text-anchor="middle">(<tspan style="font-weight:bold" font-size="12.2" dy="0.8">d</tspan><tspan dy="-0.8">)</tspan></text>
<path d="M245.6 321.7H247.9V229.4H245.6ZM247.9 321.7H249.5V242H247.9ZM249.5 321.7H250.4V292H249.5ZM250.4 321.7H252.2V290H250.4ZM252.2 321.7H254V304H252.2ZM254 321.7H255.8V311H254ZM255.8 321.7H258V315.5H255.8ZM258 321.7H260.5V317.5H258ZM260.5 321.7H262.5V320.2H260.5Z" fill="#8ebbda"/>
<polyline points="246.3,204.6 246.42,206.36 246.59,208.75 246.78,211.61 246.99,214.77 247.2,218.09 247.4,221.4 247.59,224.8 247.77,228.42 247.96,232.2 248.15,236.06 248.33,239.91 248.5,243.7 248.66,247.43 248.81,251.16 248.95,254.89 249.09,258.63 249.24,262.37 249.4,266.1 249.56,269.91 249.73,273.82 249.89,277.72 250.07,281.54 250.27,285.16 250.5,288.5 250.75,291.57 251.03,294.45 251.33,297.14 251.64,299.64 251.97,301.96 252.3,304.1 252.63,306.03 252.96,307.76 253.3,309.29 253.66,310.68 254.06,311.94 254.5,313.1 254.98,314.13 255.5,315 256.06,315.74 256.64,316.4 257.26,317.01 257.9,317.6 258.56,318.18 259.24,318.7 259.94,319.18 260.7,319.61 261.51,319.98 262.4,320.3 263.22,320.55 263.94,320.73 264.73,320.86 265.73,320.95 267.14,321.02 269.1,321.1 270.79,321.17 271.92,321.21 273.44,321.24 276.31,321.26 281.51,321.28 290,321.3 303.79,321.32 322.51,321.34 343.56,321.36 364.31,321.38 382.16,321.39 394.5,321.4" fill="none" stroke="#ff7f0e" stroke-width="0.95" stroke-linejoin="round" stroke-linecap="round"/>
<line x1="261.5" y1="321.7" x2="261.5" y2="199.3" stroke="#ff0000" stroke-width="0.9" stroke-dasharray="2.55 1.11" stroke-dashoffset="0"/>
<rect x="238.3" y="199.3" width="164" height="122.4" fill="none" stroke="#969696" stroke-width="1.0"/>
<line x1="245.6" y1="321.7" x2="245.6" y2="323.4" stroke="#969696" stroke-width="0.6"/>
<text x="245.6" y="328.5" font-size="4.83" text-anchor="middle" textLength="2.75" lengthAdjust="spacingAndGlyphs" stroke-width="0.05">0</text>
<line x1="276.58" y1="321.7" x2="276.58" y2="323.4" stroke="#969696" stroke-width="0.6"/>
<text x="276.58" y="328.5" font-size="4.83" text-anchor="middle" textLength="5.5" lengthAdjust="spacingAndGlyphs" stroke-width="0.05">50</text>
<line x1="307.56" y1="321.7" x2="307.56" y2="323.4" stroke="#969696" stroke-width="0.6"/>
<text x="307.56" y="328.5" font-size="4.83" text-anchor="middle" textLength="8.25" lengthAdjust="spacingAndGlyphs" stroke-width="0.05">100</text>
<line x1="338.54" y1="321.7" x2="338.54" y2="323.4" stroke="#969696" stroke-width="0.6"/>
<text x="338.54" y="328.5" font-size="4.83" text-anchor="middle" textLength="8.25" lengthAdjust="spacingAndGlyphs" stroke-width="0.05">150</text>
<line x1="369.52" y1="321.7" x2="369.52" y2="323.4" stroke="#969696" stroke-width="0.6"/>
<text x="369.52" y="328.5" font-size="4.83" text-anchor="middle" textLength="8.25" lengthAdjust="spacingAndGlyphs" stroke-width="0.05">200</text>
<line x1="400.5" y1="321.7" x2="400.5" y2="323.4" stroke="#969696" stroke-width="0.6"/>
<text x="400.5" y="328.5" font-size="4.83" text-anchor="middle" textLength="8.25" lengthAdjust="spacingAndGlyphs" stroke-width="0.05">250</text>
<line x1="236.6" y1="321.7" x2="238.3" y2="321.7" stroke="#969696" stroke-width="0.6"/>
<text x="234.4" y="323.38" font-size="4.83" text-anchor="end" textLength="9.22" lengthAdjust="spacingAndGlyphs" stroke-width="0.05">0.00</text>
<line x1="236.6" y1="305.74" x2="238.3" y2="305.74" stroke="#969696" stroke-width="0.6"/>
<text x="234.4" y="307.42" font-size="4.83" text-anchor="end" textLength="9.22" lengthAdjust="spacingAndGlyphs" stroke-width="0.05">0.02</text>
<line x1="236.6" y1="289.78" x2="238.3" y2="289.78" stroke="#969696" stroke-width="0.6"/>
<text x="234.4" y="291.46" font-size="4.83" text-anchor="end" textLength="9.22" lengthAdjust="spacingAndGlyphs" stroke-width="0.05">0.04</text>
<line x1="236.6" y1="273.82" x2="238.3" y2="273.82" stroke="#969696" stroke-width="0.6"/>
<text x="234.4" y="275.5" font-size="4.83" text-anchor="end" textLength="9.22" lengthAdjust="spacingAndGlyphs" stroke-width="0.05">0.06</text>
<line x1="236.6" y1="257.86" x2="238.3" y2="257.86" stroke="#969696" stroke-width="0.6"/>
<text x="234.4" y="259.54" font-size="4.83" text-anchor="end" textLength="9.22" lengthAdjust="spacingAndGlyphs" stroke-width="0.05">0.08</text>
<line x1="236.6" y1="241.9" x2="238.3" y2="241.9" stroke="#969696" stroke-width="0.6"/>
<text x="234.4" y="243.58" font-size="4.83" text-anchor="end" textLength="9.22" lengthAdjust="spacingAndGlyphs" stroke-width="0.05">0.10</text>
<line x1="236.6" y1="225.94" x2="238.3" y2="225.94" stroke="#969696" stroke-width="0.6"/>
<text x="234.4" y="227.62" font-size="4.83" text-anchor="end" textLength="9.22" lengthAdjust="spacingAndGlyphs" stroke-width="0.05">0.12</text>
<line x1="236.6" y1="209.98" x2="238.3" y2="209.98" stroke="#969696" stroke-width="0.6"/>
<text x="234.4" y="211.66" font-size="4.83" text-anchor="end" textLength="9.22" lengthAdjust="spacingAndGlyphs" stroke-width="0.05">0.14</text>
<text x="320.3" y="334.5" font-size="4.83" text-anchor="middle" textLength="12.63" lengthAdjust="spacingAndGlyphs" stroke-width="0.05">Value</text>
<g transform="translate(222.4 261.3) rotate(-90)"><text x="0" y="0" font-size="4.83" text-anchor="middle" textLength="17.49" lengthAdjust="spacingAndGlyphs" stroke-width="0.05">Density</text></g>
<text x="243.9" y="196.4" font-size="6" text-anchor="start" textLength="139.02" lengthAdjust="spacingAndGlyphs" stroke-width="0">Histogram with Interpolated Distribution of 52149</text>
<rect x="326.8" y="201.8" width="73.6" height="22" rx="0.9" fill="#fff" fill-opacity="0.8" stroke="#d0d0d0" stroke-width="0.5"/>
<rect x="328.7" y="204.05" width="9.2" height="2.9" fill="#8ebbda"/>
<line x1="328.7" y1="212" x2="337.9" y2="212" stroke="#ff7f0e" stroke-width="0.85"/>
<line x1="328.7" y1="219" x2="337.9" y2="219" stroke="#ff0000" stroke-width="0.8" stroke-dasharray="2.55 1.11"/>
<text x="341.5" y="207.18" font-size="4.83" text-anchor="start" textLength="10.98" lengthAdjust="spacingAndGlyphs" stroke-width="0.05">Data</text>
<text x="341.5" y="214.18" font-size="4.83" text-anchor="start" textLength="56.48" lengthAdjust="spacingAndGlyphs" stroke-width="0.05">Interpolated Distribution</text>
<text x="341.5" y="221.08" font-size="4.83" text-anchor="start" textLength="22.67" lengthAdjust="spacingAndGlyphs" stroke-width="0.05">Threshold</text>
<text x="316.3" y="358.5" style="font-family:&quot;Liberation Serif&quot;,serif;fill:#000;stroke:none" font-size="12" text-anchor="middle">(<tspan style="font-weight:bold" font-size="12.2" dy="0.8">e</tspan><tspan dy="-0.8">)</tspan></text>
<path d="M245.7 507.4H247.3V500.3H245.7ZM247.3 507.4H249.5V490H247.3ZM249.5 507.4H252.3V486H249.5ZM252.3 507.4H254.2V440H252.3ZM254.2 507.4H256.1V428H254.2ZM256.1 507.4H256.7V406.4H256.1ZM256.7 507.4H257.9V390.3H256.7ZM257.9 507.4H259.5V393.3H257.9ZM259.5 507.4H260.9V390.3H259.5ZM260.9 507.4H261.8V417.2H260.9ZM261.8 507.4H263.1V422.9H261.8ZM263.1 507.4H265V434H263.1ZM265 507.4H266.2V443H265ZM266.2 507.4H267.8V446H266.2ZM267.8 507.4H269.5V456H267.8ZM269.5 507.4H270.6V468.2H269.5ZM270.6 507.4H272.3V478.7H270.6ZM272.3 507.4H273.4V476H272.3ZM273.4 507.4H276.2V475.4H273.4ZM276.2 507.4H277.3V482.6H276.2ZM277.3 507.4H279.5V488.1H277.3ZM279.5 507.4H282.2V497H279.5ZM282.2 507.4H283.9V488.1H282.2ZM283.9 507.4H285.6V491.5H283.9ZM285.6 507.4H287.8V498.1H285.6ZM287.8 507.4H290V499.2H287.8ZM290 507.4H291.1V502.5H290ZM291.1 507.4H294.9V503.6H291.1ZM294.9 507.4H297.7V504H294.9ZM297.7 507.4H303.4V505.2H297.7ZM303.4 507.4H306.2V503H303.4ZM306.2 507.4H307.6V505.5H306.2ZM307.6 507.4H309.9V504H307.6ZM309.9 507.4H321.7V505.8H309.9ZM321.7 507.4H323.1V501.4H321.7ZM323.1 507.4H330V506.2H323.1ZM341.5 507.4H343V506H341.5ZM351.4 507.4H352.8V506H351.4ZM369.7 507.4H371V506.2H369.7ZM393.8 507.4H395.2V506.2H393.8Z" fill="#8ebbda"/>
<polyline points="245.9,507.2 246.09,505.27 246.36,502.61 246.68,499.46 247.03,496.04 247.37,492.61 247.7,489.4 248.01,486.33 248.33,483.2 248.65,480.04 248.97,476.91 249.29,473.85 249.6,470.9 249.91,468.04 250.22,465.23 250.52,462.49 250.83,459.83 251.12,457.26 251.4,454.8 251.67,452.45 251.93,450.22 252.18,448.08 252.43,446.01 252.67,443.99 252.9,442 253.12,440.03 253.33,438.09 253.52,436.2 253.73,434.38 253.95,432.64 254.2,431 254.48,429.43 254.77,427.91 255.08,426.48 255.41,425.16 255.75,423.99 256.1,423 256.47,422.18 256.85,421.51 257.25,420.99 257.66,420.61 258.08,420.38 258.5,420.3 258.93,420.37 259.39,420.59 259.84,420.96 260.3,421.47 260.76,422.12 261.2,422.9 261.63,423.85 262.04,424.97 262.46,426.22 262.87,427.59 263.28,429.02 263.7,430.5 264.14,432.08 264.59,433.8 265.05,435.6 265.5,437.4 265.92,439.12 266.3,440.7 266.64,442.1 266.94,443.38 267.22,444.59 267.48,445.77 267.74,446.99 268,448.3 268.24,449.67 268.45,451.06 268.65,452.48 268.87,453.95 269.15,455.49 269.5,457.1 269.94,458.82 270.46,460.63 271.03,462.51 271.63,464.41 272.22,466.32 272.8,468.2 273.35,470.06 273.89,471.94 274.43,473.83 274.99,475.69 275.57,477.52 276.2,479.3 276.86,481.06 277.55,482.81 278.27,484.53 279.01,486.18 279.79,487.75 280.6,489.2 281.47,490.55 282.41,491.82 283.38,493 284.34,494.08 285.26,495.05 286.1,495.9 286.84,496.55 287.5,497.01 288.11,497.36 288.71,497.68 289.33,498.06 290,498.6 290.66,499.33 291.29,500.2 291.94,501.13 292.65,502.06 293.49,502.9 294.5,503.6 295.72,504.14 297.11,504.59 298.63,504.96 300.22,505.27 301.83,505.55 303.4,505.8 304.76,506.02 305.9,506.19 307.07,506.32 308.49,506.42 310.38,506.51 313,506.6 316.17,506.68 319.69,506.74 323.69,506.79 328.32,506.83 333.71,506.87 340,506.9 348.12,506.93 358.15,506.95 368.94,506.97 379.35,506.98 388.25,506.99 394.5,507" fill="none" stroke="#ff7f0e" stroke-width="0.95" stroke-linejoin="round" stroke-linecap="round"/>
<line x1="291.5" y1="507.4" x2="291.5" y2="384.9" stroke="#ff0000" stroke-width="0.9" stroke-dasharray="2.55 1.11" stroke-dashoffset="0"/>
<rect x="238.3" y="384.9" width="164" height="122.5" fill="none" stroke="#969696" stroke-width="1.0"/>
<line x1="245.9" y1="507.4" x2="245.9" y2="509.1" stroke="#969696" stroke-width="0.6"/>
<text x="245.9" y="514" font-size="4.83" text-anchor="middle" textLength="2.75" lengthAdjust="spacingAndGlyphs" stroke-width="0.05">0</text>
<line x1="268.17" y1="507.4" x2="268.17" y2="509.1" stroke="#969696" stroke-width="0.6"/>
<text x="268.17" y="514" font-size="4.83" text-anchor="middle" textLength="5.5" lengthAdjust="spacingAndGlyphs" stroke-width="0.05">10</text>
<line x1="290.44" y1="507.4" x2="290.44" y2="509.1" stroke="#969696" stroke-width="0.6"/>
<text x="290.44" y="514" font-size="4.83" text-anchor="middle" textLength="5.5" lengthAdjust="spacingAndGlyphs" stroke-width="0.05">20</text>
<line x1="312.71" y1="507.4" x2="312.71" y2="509.1" stroke="#969696" stroke-width="0.6"/>
<text x="312.71" y="514" font-size="4.83" text-anchor="middle" textLength="5.5" lengthAdjust="spacingAndGlyphs" stroke-width="0.05">30</text>
<line x1="334.98" y1="507.4" x2="334.98" y2="509.1" stroke="#969696" stroke-width="0.6"/>
<text x="334.98" y="514" font-size="4.83" text-anchor="middle" textLength="5.5" lengthAdjust="spacingAndGlyphs" stroke-width="0.05">40</text>
<line x1="357.25" y1="507.4" x2="357.25" y2="509.1" stroke="#969696" stroke-width="0.6"/>
<text x="357.25" y="514" font-size="4.83" text-anchor="middle" textLength="5.5" lengthAdjust="spacingAndGlyphs" stroke-width="0.05">50</text>
<line x1="379.52" y1="507.4" x2="379.52" y2="509.1" stroke="#969696" stroke-width="0.6"/>
<text x="379.52" y="514" font-size="4.83" text-anchor="middle" textLength="5.5" lengthAdjust="spacingAndGlyphs" stroke-width="0.05">60</text>
<line x1="401.79" y1="507.4" x2="401.79" y2="509.1" stroke="#969696" stroke-width="0.6"/>
<text x="401.79" y="514" font-size="4.83" text-anchor="middle" textLength="5.5" lengthAdjust="spacingAndGlyphs" stroke-width="0.05">70</text>
<line x1="236.6" y1="507.4" x2="238.3" y2="507.4" stroke="#969696" stroke-width="0.6"/>
<text x="234.4" y="509.08" font-size="4.83" text-anchor="end" textLength="9.22" lengthAdjust="spacingAndGlyphs" stroke-width="0.05">0.00</text>
<line x1="236.6" y1="490.16" x2="238.3" y2="490.16" stroke="#969696" stroke-width="0.6"/>
<text x="234.4" y="491.84" font-size="4.83" text-anchor="end" textLength="9.22" lengthAdjust="spacingAndGlyphs" stroke-width="0.05">0.02</text>
<line x1="236.6" y1="472.92" x2="238.3" y2="472.92" stroke="#969696" stroke-width="0.6"/>
<text x="234.4" y="474.6" font-size="4.83" text-anchor="end" textLength="9.22" lengthAdjust="spacingAndGlyphs" stroke-width="0.05">0.04</text>
<line x1="236.6" y1="455.68" x2="238.3" y2="455.68" stroke="#969696" stroke-width="0.6"/>
<text x="234.4" y="457.36" font-size="4.83" text-anchor="end" textLength="9.22" lengthAdjust="spacingAndGlyphs" stroke-width="0.05">0.06</text>
<line x1="236.6" y1="438.44" x2="238.3" y2="438.44" stroke="#969696" stroke-width="0.6"/>
<text x="234.4" y="440.12" font-size="4.83" text-anchor="end" textLength="9.22" lengthAdjust="spacingAndGlyphs" stroke-width="0.05">0.08</text>
<line x1="236.6" y1="421.2" x2="238.3" y2="421.2" stroke="#969696" stroke-width="0.6"/>
<text x="234.4" y="422.88" font-size="4.83" text-anchor="end" textLength="9.22" lengthAdjust="spacingAndGlyphs" stroke-width="0.05">0.10</text>
<line x1="236.6" y1="403.96" x2="238.3" y2="403.96" stroke="#969696" stroke-width="0.6"/>
<text x="234.4" y="405.64" font-size="4.83" text-anchor="end" textLength="9.22" lengthAdjust="spacingAndGlyphs" stroke-width="0.05">0.12</text>
<line x1="236.6" y1="386.72" x2="238.3" y2="386.72" stroke="#969696" stroke-width="0.6"/>
<text x="234.4" y="388.4" font-size="4.83" text-anchor="end" textLength="9.22" lengthAdjust="spacingAndGlyphs" stroke-width="0.05">0.14</text>
<text x="320.3" y="520.3" font-size="4.83" text-anchor="middle" textLength="12.63" lengthAdjust="spacingAndGlyphs" stroke-width="0.05">Value</text>
<g transform="translate(222.2 446.95) rotate(-90)"><text x="0" y="0" font-size="4.83" text-anchor="middle" textLength="17.49" lengthAdjust="spacingAndGlyphs" stroke-width="0.05">Density</text></g>
<text x="242.2" y="381.6" font-size="6" text-anchor="start" textLength="139.02" lengthAdjust="spacingAndGlyphs" stroke-width="0">Histogram with Interpolated Distribution of 62993</text>
<rect x="326.8" y="387.4" width="73.6" height="22" rx="0.9" fill="#fff" fill-opacity="0.8" stroke="#d0d0d0" stroke-width="0.5"/>
<rect x="328.7" y="389.65" width="9.2" height="2.9" fill="#8ebbda"/>
<line x1="328.7" y1="397.6" x2="337.9" y2="397.6" stroke="#ff7f0e" stroke-width="0.85"/>
<line x1="328.7" y1="404.6" x2="337.9" y2="404.6" stroke="#ff0000" stroke-width="0.8" stroke-dasharray="2.55 1.11"/>
<text x="341.5" y="392.78" font-size="4.83" text-anchor="start" textLength="10.98" lengthAdjust="spacingAndGlyphs" stroke-width="0.05">Data</text>
<text x="341.5" y="399.78" font-size="4.83" text-anchor="start" textLength="56.48" lengthAdjust="spacingAndGlyphs" stroke-width="0.05">Interpolated Distribution</text>
<text x="341.5" y="406.68" font-size="4.83" text-anchor="start" textLength="22.67" lengthAdjust="spacingAndGlyphs" stroke-width="0.05">Threshold</text>
<text x="316.3" y="544.4" style="font-family:&quot;Liberation Serif&quot;,serif;fill:#000;stroke:none" font-size="12" text-anchor="middle">(<tspan style="font-weight:bold" font-size="12.2" dy="0.8">f</tspan><tspan dy="-0.8">)</tspan></text>
</svg>
</body></html>
